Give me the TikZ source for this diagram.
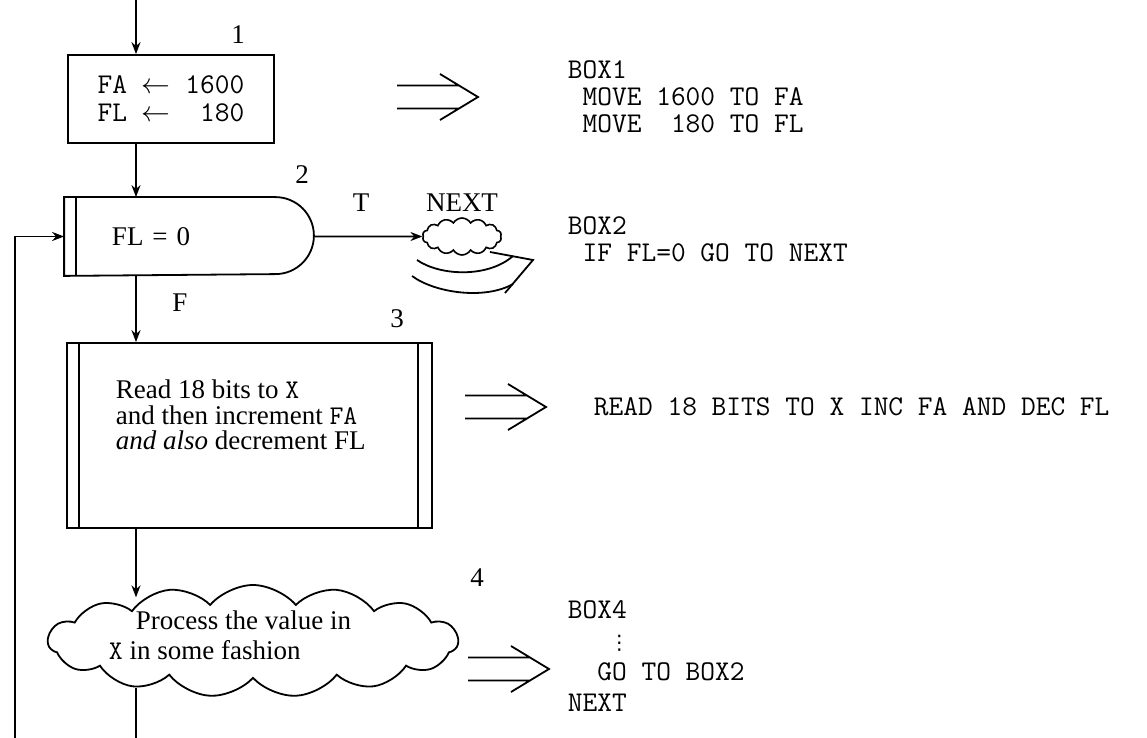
\documentclass[tikz,border=0pt]{standalone}
\usepackage{fontspec}
\setmainfont{Liberation Serif}
\newfontfamily\dejavu{DejaVu Sans}
\usetikzlibrary{arrows.meta,shapes.symbols,calc}
\newcommand\tsp{\hphantom{0}}
\tikzset{
  txt/.style={font=\fontsize{13.5}{12.75}\selectfont, inner sep=0pt},
  code/.style={font=\fontsize{14.3}{13.5}\selectfont\ttfamily, inner sep=0pt},
  flowbox/.style={draw, inner sep=0pt},
  dblarr/.pic={\draw (-81,-11.5) -- (-19,-11.5) (-81,11.5) -- (-19,11.5) (-38,-23) -- (0,0) -- (-38,23);},
}
\begin{document}
\begin{tikzpicture}[x=0.5pt,y=-0.5pt, line width=0.9pt, >={Stealth[length=6pt,width=4.5pt]}]
\useasboundingbox (0,0) rectangle (1147,738);

\coordinate (spine) at (136,0);
\coordinate (lb) at (15,738);
\coordinate (bot) at (136,738);

% box 1
\node[flowbox, code, font=\fontsize{14.3}{14}\selectfont\ttfamily, align=left, minimum width=103pt, minimum height=44pt] (b1) at (171,99)
  {FA $\leftarrow$ 1600\\FL $\leftarrow$ \tsp180};
\node[txt] (l1) at (238,35) {1};
\draw[->] (spine) -- (b1.north -| spine);
\pic at (478,97) {dblarr};
\node[code, align=left, anchor=west] (c1) at (567,97)
  {BOX1\\\tsp MOVE 1600 TO FA\\\tsp MOVE \tsp180 TO FL};

% box 2
\node[txt, minimum width=124pt, minimum height=38.5pt, inner xsep=23.5pt, text width=77pt, align=left] (b2) at (189,236.5) {FL = 0};
\draw (b2.north west) -- ($(b2.north east)+(-38.5,0)$) arc[start angle=90,end angle=-90,radius=19.25pt] -- (b2.south west) -- cycle;
\draw ($(b2.north west)+(12,0)$) -- ($(b2.south west)+(12,0)$);
\node[txt] (l2) at (302,175) {2};
\draw[->] (b1.south -| spine) -- (b2.north -| spine);

% NEXT connector
\node[cloud, draw, cloud puffs=14, cloud puff arc=120, aspect=2.1, minimum width=39.5pt, minimum height=18.5pt, inner sep=0pt, line width=0.8pt] (nx) at (462,236.5) {};
\node[txt] (nxl) at (462,203) {NEXT};
\node[txt] (lT) at (361,203) {T};
\draw[->] (b2.east) -- (nx.west);
\draw (417,260) .. controls (440,276) and (488,278) .. (513,256);
\draw (412,276) .. controls (435,293) and (485,300) .. (513,284);
\draw (490,252) -- (533,260) -- (505,293);
\node[code, align=left, anchor=west] (c2) at (567,239)
  {BOX2\\\tsp IF FL=0 GO TO NEXT};

% box 3
\node[txt] (lF) at (180,303) {F};
\node[flowbox, minimum width=182.5pt, minimum height=92.5pt] (b3) at (249.5,435.5) {};
\draw ($(b3.north west)+(13,0)$) -- ($(b3.south west)+(13,0)$);
\draw ($(b3.north east)+(-15,0)$) -- ($(b3.south east)+(-15,0)$);
\node[txt, align=left, anchor=west] (b3t) at (115,415)
  {Read 18 bits to \texttt{X}\\and then increment \texttt{FA}\\\textit{and also} decrement FL};
\node[txt] (l3) at (397,319) {3};
\draw[->] (b2.south -| spine) -- (b3.north -| spine);
\pic at (546,407) {dblarr};
\node[code, anchor=west] (c3) at (593,407) {READ 18 BITS TO X INC FA AND DEC FL};

% box 4
\node[cloud, draw, cloud puffs=15, cloud puff arc=100, aspect=3.7, minimum width=205pt, minimum height=56pt, inner sep=0pt] (c4) at (253,641) {};
\node[txt, font=\fontsize{13.5}{15}\selectfont, align=left, anchor=west] (c4t) at (108,635)
  {\hspace*{13.5pt}Process the value in\\\texttt{X} in some fashion};
\node[txt] (l4) at (477,578) {4};
\draw[->] (b3.south -| spine) -- (spine |- c4.158);
\draw (spine |- c4.202) -- (bot);
\pic at (549,669) {dblarr};
\node[code, font=\fontsize{14.3}{15.5}\selectfont\ttfamily, align=left, anchor=west] (c4c) at (567,656)
  {BOX4\\\tsp\tsp\tsp\makebox[\fontcharwd\font`0][c]{\dejavu\fontsize{10}{10}\selectfont ⋮}\\\tsp\tsp GO TO BOX2\\NEXT};

% loop back
\draw[->] (lb) |- (b2.west);
\end{tikzpicture}
\end{document}
